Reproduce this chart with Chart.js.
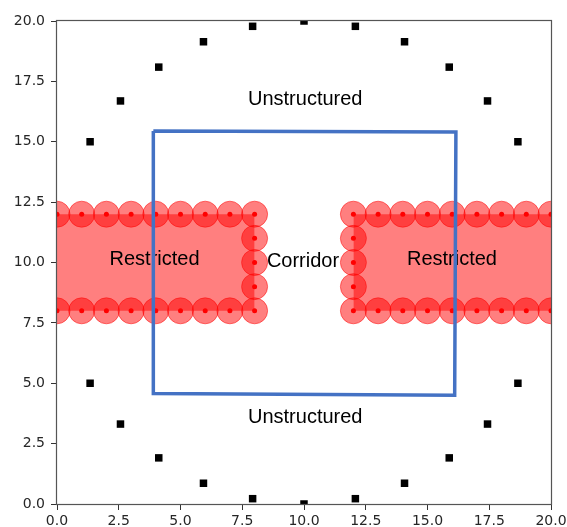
<!DOCTYPE html>
<html>
<head>
<meta charset="utf-8">
<script src="https://cdn.jsdelivr.net/npm/chart.js@4/dist/chart.umd.min.js"></script>
<style>
  html, body { margin: 0; padding: 0; background: #fff; }
  canvas { display: block; }
</style>
</head>
<body>
<canvas id="map" width="567" height="527"></canvas>
<script>
// boundary markers around the field
const boundaryX = [10.0, 12.08, 14.07, 15.88, 17.43, 18.66, 18.66, 17.43, 15.88, 14.07, 12.08,
                   10.0, 7.92, 5.93, 4.12, 2.57, 1.34, 1.34, 2.57, 4.12, 5.93, 7.92];
const boundaryY = [0.0, 0.22, 0.86, 1.91, 3.31, 5.0, 15.0, 16.69, 18.09, 19.14, 19.78,
                   20.0, 19.78, 19.14, 18.09, 16.69, 15.0, 5.0, 3.31, 1.91, 0.86, 0.22];

// obstacle centres (left block then right block)
const obstacleX = [0, 1, 2, 3, 4, 5, 6, 7, 8,  0, 1, 2, 3, 4, 5, 6, 7, 8,  8, 8, 8,
                   12, 13, 14, 15, 16, 17, 18, 19, 20,  12, 13, 14, 15, 16, 17, 18, 19, 20,  12, 12, 12];
const obstacleY = [12, 12, 12, 12, 12, 12, 12, 12, 12,  8, 8, 8, 8, 8, 8, 8, 8, 8,  11, 10, 9,
                   12, 12, 12, 12, 12, 12, 12, 12, 12,  8, 8, 8, 8, 8, 8, 8, 8, 8,  11, 10, 9];

// restricted zones
const leftZoneX = [0, 8];
const rightZoneX = [12, 20];
const zoneTop = 12;
const zoneBottom = 8;

// corridor outline
const boxX = [3.9, 16.15, 16.1, 3.9, 3.9];
const boxY = [15.45, 15.4, 4.5, 4.58, 15.45];

// region names
const labelText = ['Unstructured', 'Unstructured', 'Restricted', 'Restricted', 'Corridor'];
const labelX = [10.05, 10.05, 3.95, 15.99, 9.96];
const labelY = [16.73, 3.59, 10.13, 10.13, 10.03];

const pts = (xs, ys) => xs.map((x, i) => ({ x: x, y: ys[i] }));
const RED_A = 'rgba(255,0,0,0.5)';

const regionLabels = {
  id: 'regionLabels',
  afterDatasetDraw(chart, args) {
    if (args.index !== 2) return;
    const { ctx, scales } = chart;
    ctx.save();
    ctx.font = '20px "Liberation Sans", Arial, sans-serif';
    ctx.fillStyle = '#000';
    ctx.textAlign = 'center';
    ctx.textBaseline = 'middle';
    labelText.forEach((t, i) => {
      ctx.fillText(t, scales.x.getPixelForValue(labelX[i]), scales.y.getPixelForValue(labelY[i]));
    });
    ctx.restore();
  }
};

const frame = {
  id: 'frame',
  afterDraw(chart) {
    const { ctx, chartArea: a } = chart;
    ctx.save();
    ctx.strokeStyle = '#555';
    ctx.lineWidth = 1.2;
    ctx.strokeRect(Math.round(a.left) - 0.5, Math.round(a.top) - 0.5,
                   Math.round(a.right - a.left) + 1, Math.round(a.bottom - a.top) + 1);
    ctx.restore();
  }
};

const tickFont = { family: '"DejaVu Sans", sans-serif', size: 14 };

function axis(widthOrHeight, isY) {
  return {
    type: 'linear',
    min: 0,
    max: 20,
    ticks: {
      stepSize: 2.5,
      color: '#262626',
      font: tickFont,
      padding: isY ? 6 : 3,
      callback: v => v.toFixed(1)
    },
    grid: { drawOnChartArea: false, drawTicks: true, tickLength: 6, color: '#333' },
    border: { display: false },
    afterFit(scale) {
      // plot area is set by the layout padding, not by label overhang
      scale.paddingLeft = 0;
      scale.paddingRight = 0;
      scale.paddingTop = 0;
      scale.paddingBottom = 0;
      if (isY) scale.width = widthOrHeight; else scale.height = widthOrHeight;
    }
  };
}

new Chart(document.getElementById('map'), {
  type: 'scatter',
  data: {
    datasets: [
      {
        data: pts(boxX, boxY),
        showLine: true,
        borderColor: '#4472c4',
        borderWidth: 3.5,
        pointRadius: 0,
        clip: 0
      },
      {
        data: pts(boundaryX, boundaryY),
        pointStyle: 'rect',
        pointRadius: 5.3,
        backgroundColor: '#000',
        borderWidth: 0,
        clip: 0
      },
      {
        data: pts(obstacleX, obstacleY),
        pointRadius: 2.5,
        backgroundColor: '#ff0000',
        borderWidth: 0,
        clip: 0
      },
      {
        data: pts(obstacleX, obstacleY),
        pointRadius: 13,
        backgroundColor: RED_A,
        borderColor: RED_A,
        borderWidth: 1,
        clip: 0
      },
      {
        data: pts(rightZoneX, [zoneTop, zoneTop]),
        showLine: true,
        borderWidth: 0,
        pointRadius: 0,
        fill: { value: zoneBottom },
        backgroundColor: RED_A,
        clip: 0
      },
      {
        data: pts(leftZoneX, [zoneTop, zoneTop]),
        showLine: true,
        borderWidth: 0,
        pointRadius: 0,
        fill: { value: zoneBottom },
        backgroundColor: RED_A,
        clip: 0
      }
    ]
  },
  options: {
    responsive: false,
    animation: false,
    events: [],
    layout: { padding: { left: 0, right: 16, top: 21, bottom: 0 } },
    plugins: {
      legend: { display: false },
      tooltip: { enabled: false }
    },
    scales: {
      x: axis(23, false),
      y: axis(57, true)
    }
  },
  plugins: [regionLabels, frame]
});
</script>
</body>
</html>
